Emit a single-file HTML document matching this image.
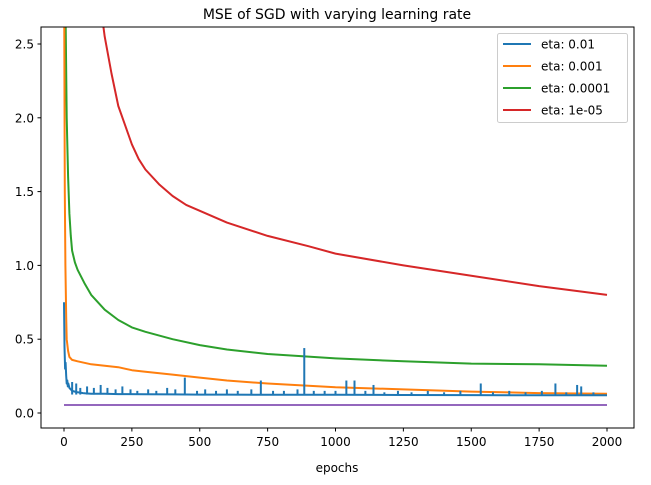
<!DOCTYPE html>
<html><head><meta charset="utf-8"><style>
body{margin:0;background:#fff;font-family:"Liberation Sans","DejaVu Sans",sans-serif;}
svg text{font-family:"DejaVu Sans","Liberation Sans",sans-serif;font-size:12px;fill:#000}
</style></head><body>
<svg id="chart" width="651" height="480" xmlns="http://www.w3.org/2000/svg">
<text x="337" y="19" text-anchor="middle" style="font-size:14px">MSE of SGD with varying learning rate</text>
<defs><clipPath id="clip"><rect x="41" y="27" width="593" height="401"/></clipPath></defs>
<g id="series" clip-path="url(#clip)"></g>
<g id="axes"></g>
<rect x="41" y="27" width="593" height="401" fill="none" stroke="#000" stroke-width="1"/>
<text x="337" y="472" text-anchor="middle">epochs</text>
<g id="legend"></g>
</svg>
<script>
const xTicks=[0,250,500,750,1000,1250,1500,1750,2000];
const yTicks=[0.0,0.5,1.0,1.5,2.0,2.5];
const yTickLabels=["0.0","0.5","1.0","1.5","2.0","2.5"];
const blueX=[0,2,4,6,8,10,12,14,16,20,25,30,40,50,60,70,80,100,150,200,300,400,500,600,700,800,1000,1250,1500,1750,2000];
const blueY=[0.75,0.45,0.3,0.34,0.25,0.2,0.22,0.18,0.2,0.17,0.16,0.15,0.145,0.14,0.138,0.135,0.133,0.13,0.13,0.128,0.127,0.126,0.125,0.125,0.124,0.124,0.123,0.122,0.121,0.12,0.12];
const spikeX=[30,45,60,85,110,135,160,190,215,245,270,310,340,380,410,445,490,520,560,600,640,690,725,770,810,860,885,920,960,1000,1040,1070,1110,1140,1180,1230,1280,1340,1400,1460,1535,1580,1640,1700,1760,1810,1850,1890,1905,1950];
const spikeY=[0.21,0.2,0.17,0.18,0.17,0.19,0.17,0.16,0.18,0.16,0.15,0.16,0.15,0.17,0.16,0.24,0.15,0.16,0.15,0.16,0.15,0.16,0.22,0.15,0.15,0.16,0.44,0.15,0.15,0.15,0.22,0.22,0.15,0.19,0.14,0.15,0.14,0.15,0.14,0.15,0.2,0.14,0.15,0.14,0.15,0.2,0.14,0.19,0.18,0.14];
const orangeX=[0,3,5,8,10,15,20,30,50,100,150,200,250,300,400,500,600,750,900,1000,1250,1500,1750,2000];
const orangeY=[3.2,1.5,1.0,0.65,0.5,0.42,0.38,0.36,0.35,0.33,0.32,0.31,0.29,0.28,0.26,0.24,0.22,0.2,0.185,0.175,0.16,0.145,0.135,0.13];
const greenX=[0,5,10,15,20,25,30,40,50,75,100,150,200,250,300,400,500,600,750,1000,1250,1500,1750,2000];
const greenY=[4.0,2.8,2.0,1.6,1.35,1.2,1.1,1.02,0.97,0.88,0.8,0.7,0.63,0.58,0.55,0.5,0.46,0.43,0.4,0.37,0.35,0.335,0.33,0.32];
const redX=[100,125,150,175,200,225,250,275,300,350,400,450,500,600,750,900,1000,1250,1500,1750,2000];
const redY=[3.3,2.9,2.55,2.3,2.08,1.95,1.82,1.72,1.65,1.55,1.47,1.41,1.37,1.29,1.2,1.13,1.08,1.0,0.93,0.86,0.8];
const purpleX=[0,2000];
const purpleY=[0.054,0.054];
const seriesNames=["eta: 0.01","eta: 0.001","eta: 0.0001","eta: 1e-05"];
const colors=["#1f77b4","#ff7f0e","#2ca02c","#d62728"];
const NS="http://www.w3.org/2000/svg";
const X=v=>64+v*(543/2000);
const Y=v=>413-v*147.6;
const S=document.getElementById('series'),A=document.getElementById('axes'),L=document.getElementById('legend');
function line(xs,ys,c,name){const p=document.createElementNS(NS,'polyline');
p.setAttribute('points',xs.map((x,i)=>X(x).toFixed(1)+','+Y(ys[i]).toFixed(1)).join(' '));
p.setAttribute('fill','none');p.setAttribute('stroke',c);p.setAttribute('stroke-width','2');p.setAttribute('stroke-linejoin','round');


S.appendChild(p);}
line(purpleX,purpleY,"#9467bd","series-baseline");
line(redX,redY,colors[3],"series-eta-1e-05");
line(greenX,greenY,colors[2],"series-eta-0.0001");
line(orangeX,orangeY,colors[1],"series-eta-0.001");
line(blueX,blueY,colors[0],"series-eta-0.01");
spikeX.forEach((sx,i)=>{const l=document.createElementNS(NS,'line');l.setAttribute('x1',X(sx));l.setAttribute('x2',X(sx));l.setAttribute('y1',Y(0.125));l.setAttribute('y2',Y(spikeY[i]));l.setAttribute('stroke',colors[0]);l.setAttribute('stroke-width','2');


S.appendChild(l);});
xTicks.forEach(t=>{const l=document.createElementNS(NS,'line');l.setAttribute('x1',X(t));l.setAttribute('x2',X(t));l.setAttribute('y1',428);l.setAttribute('y2',431.5);l.setAttribute('stroke','#000');


A.appendChild(l);
const tx=document.createElementNS(NS,'text');tx.setAttribute('x',X(t));tx.setAttribute('y',446);tx.setAttribute('text-anchor','middle');tx.textContent=t;


A.appendChild(tx);});
yTicks.forEach((t,i)=>{const l=document.createElementNS(NS,'line');l.setAttribute('x1',37.5);l.setAttribute('x2',41);l.setAttribute('y1',Y(t));l.setAttribute('y2',Y(t));l.setAttribute('stroke','#000');


A.appendChild(l);
const tx=document.createElementNS(NS,'text');tx.setAttribute('x',34);tx.setAttribute('y',Y(t)+4.5);tx.setAttribute('text-anchor','end');tx.textContent=yTickLabels[i];


A.appendChild(tx);});
const box=document.createElementNS(NS,'rect');box.setAttribute('x',497.5);box.setAttribute('y',33.5);box.setAttribute('width',130);box.setAttribute('height',89);box.setAttribute('rx',2);box.setAttribute('fill','#fff');box.setAttribute('fill-opacity','0.8');box.setAttribute('stroke','#ccc');


L.appendChild(box);
seriesNames.forEach((n,i)=>{const y=44+i*22;const l=document.createElementNS(NS,'line');l.setAttribute('x1',503);l.setAttribute('x2',531);l.setAttribute('y1',y);l.setAttribute('y2',y);l.setAttribute('stroke',colors[i]);l.setAttribute('stroke-width','2');


L.appendChild(l);
const tx=document.createElementNS(NS,'text');tx.setAttribute('x',541);tx.setAttribute('y',y+4.5);tx.textContent=n;


L.appendChild(tx);});
</script>
</body></html>
